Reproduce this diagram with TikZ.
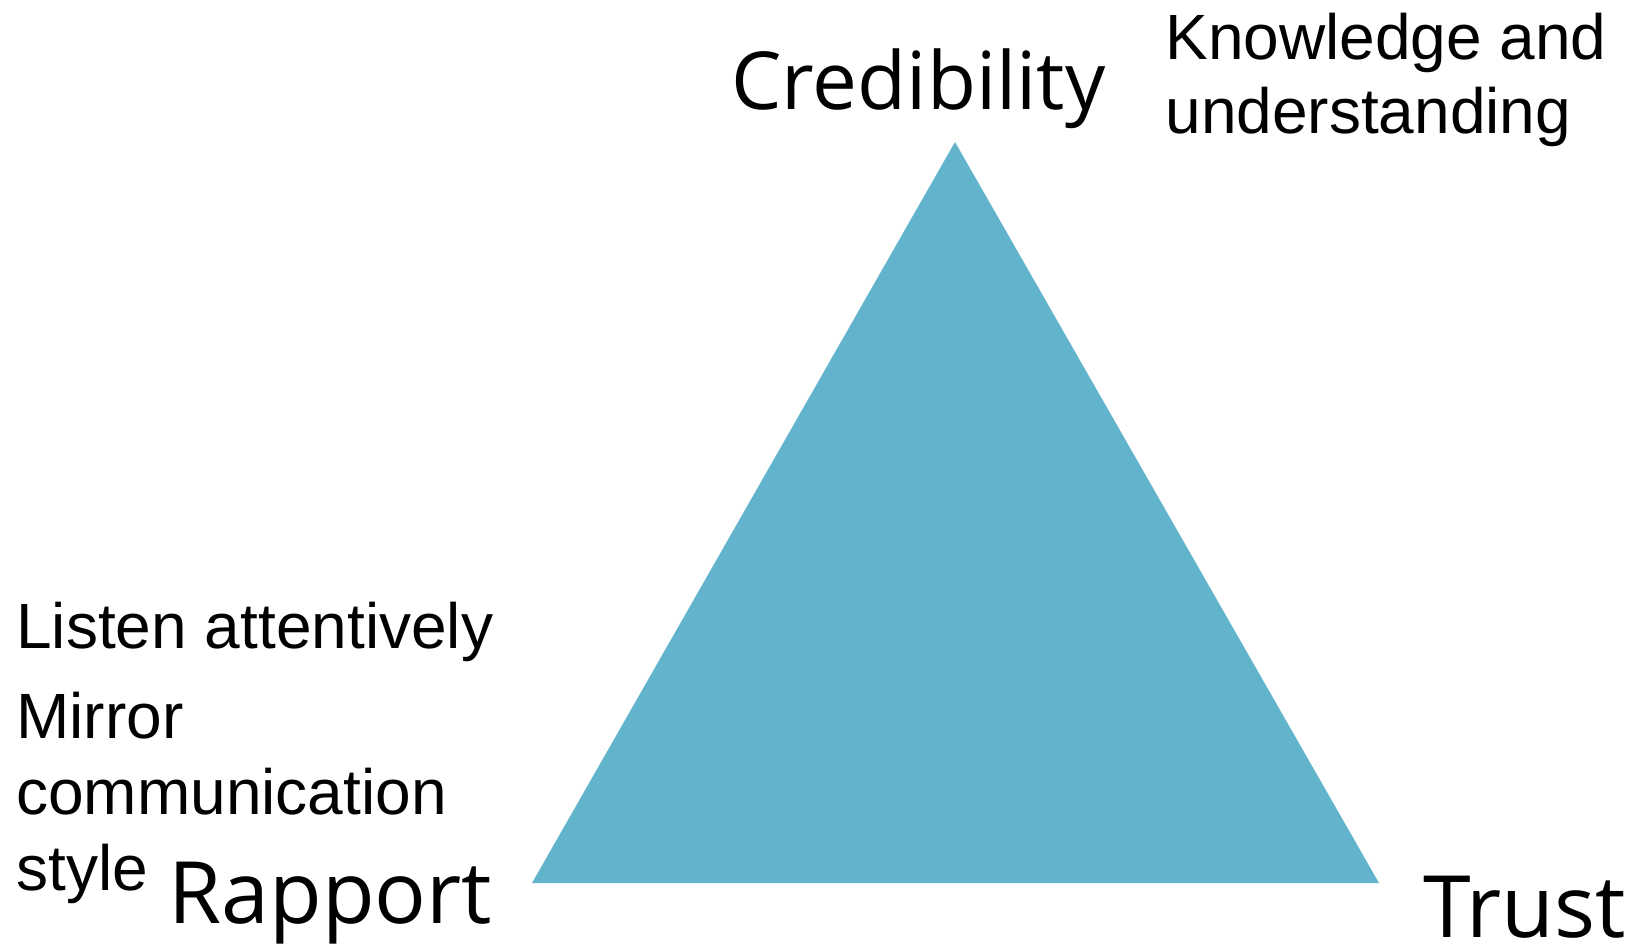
\documentclass[tikz,border=0pt]{standalone}
\usepackage{fontspec}
\setmainfont{Liberation Sans}
\newfontfamily\cornerfont{Open Sans}
\usetikzlibrary{positioning}

\definecolor{triblue}{HTML}{62B3CC}

\begin{document}
\begin{tikzpicture}[
    x=0.5pt, y=-0.5pt, % work in pixels, y going down
    corner/.style={inner sep=0pt, anchor=base west, font=\cornerfont\fontsize{43}{50}\selectfont}, % Style for the three corner words
    note/.style={inner sep=0pt, anchor=base west, align=left, font=\fontsize{32}{38}\selectfont} % Style for the notes (base = last line)
]

    % Page size
    \useasboundingbox (0,0) rectangle (1638,944);

    % --- Triangle ---
    \coordinate (apex) at (955, 142);
    \coordinate (leftcorner) at (532, 883);
    \coordinate (rightcorner) at (1379, 883);
    \fill[triblue] (apex) -- (rightcorner) -- (leftcorner) -- cycle;

    % --- Corner words ---
    \node[corner, font=\cornerfont\fontsize{40}{48}\selectfont] (cred) at (731, 109) {Credibility};
    \node[corner] (rapport) at (168, 923) {Rapport};
    \node[corner] (trust) at (1423, 937) {Trust};

    % --- Notes ---
    \node[note, font=\fontsize{32}{37}\selectfont] (knowledge) at (1165, 133) {Knowledge and\\understanding};
    \node[note] (listen) at (16, 890) {Listen attentively\\[7pt]Mirror\\communication\\style};

\end{tikzpicture}
\end{document}
